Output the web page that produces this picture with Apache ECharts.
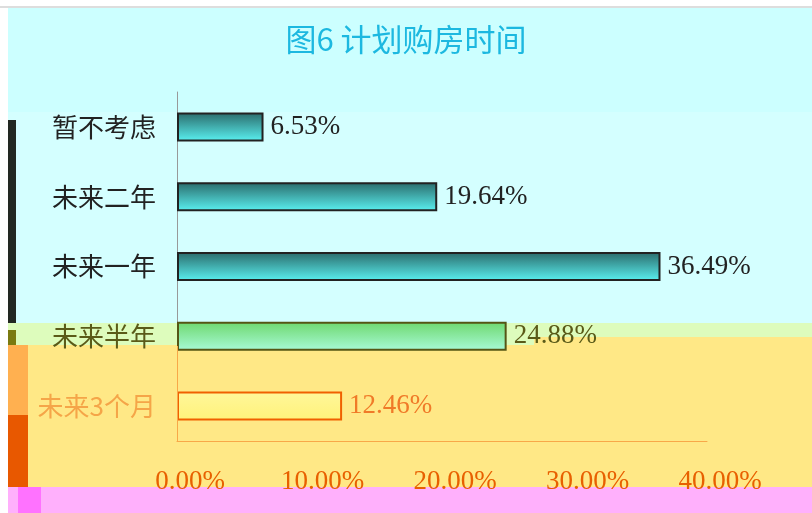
<!DOCTYPE html>
<html><head><meta charset="utf-8">
<script src="https://cdn.jsdelivr.net/npm/echarts@6/dist/echarts.min.js"></script>
<style>html,body{margin:0;padding:0;background:#fff}#c{width:812px;height:513px}</style>
</head><body><div id="c"></div>
<script>
const titleText = '图6 计划购房时间';
const categories = ['暂不考虑', '未来二年', '未来一年', '未来半年', '未来3个月'];
const values = [6.53, 19.64, 36.49, 24.88, 12.46];
const tickValues = [0, 10, 20, 30, 40];

const barStyles = [
  {top:'#2a6a6a', bottom:'#5af2f2', border:'#222', text:'#222'},
  {top:'#2a6a6a', bottom:'#5af2f2', border:'#222', text:'#222'},
  {top:'#2a6a6a', bottom:'#5af2f2', border:'#222', text:'#222'},
  {top:'#6ed86e', bottom:'#a8fad8', border:'#555515', text:'#5a5a18'},
  {top:'#fff79a', bottom:'#fff27a', border:'#f06000', text:'#f07a28'}
];
const catColors = ['#222', '#222', '#222', '#5a5a18', '#f5a548'];

const chart = echarts.init(document.getElementById('c'), null, {renderer:'canvas'});
const grad = (a,b) => new echarts.graphic.LinearGradient(0,0,0,1,[{offset:0,color:a},{offset:1,color:b}]);

chart.setOption({
  backgroundColor:'#ffffff',
  animation:false,
  graphic:[
    {type:'rect', z:-10, shape:{x:0,y:0,width:812,height:8}, style:{fill:'#ffffff'}},
    {type:'line', z:-9, shape:{x1:0,y1:7,x2:812,y2:7}, style:{stroke:'#bbbbbb',lineWidth:1}},
    {type:'rect', z:-10, shape:{x:8,y:8,width:804,height:315}, style:{fill:'#ccffff'}},
    {type:'rect', z:-10, shape:{x:8,y:112,width:804,height:211}, style:{fill:'#d4ffff'}},
    {type:'rect', z:-10, shape:{x:8,y:323,width:804,height:22}, style:{fill:'#ddfcbc'}},
    {type:'rect', z:-10, shape:{x:8,y:345,width:804,height:142}, style:{fill:'#ffe886'}},
    {type:'rect', z:-9, shape:{x:534,y:337,width:278,height:8}, style:{fill:'#ffe886'}},
    {type:'rect', z:-9, shape:{x:8,y:120,width:8,height:203}, style:{fill:'#222822'}},
    {type:'rect', z:-9, shape:{x:8,y:330,width:8,height:15}, style:{fill:'#7a7a10'}},
    {type:'rect', z:-9, shape:{x:8,y:345,width:20,height:70}, style:{fill:'#ffb050'}},
    {type:'rect', z:-9, shape:{x:8,y:415,width:20,height:72}, style:{fill:'#e85800'}},
    {type:'rect', z:-10, shape:{x:8,y:487,width:804,height:26}, style:{fill:'#ffb0fc'}},
    {type:'rect', z:-9, shape:{x:18,y:487,width:23,height:26}, style:{fill:'#ff72ff'}},
    {type:'line', z:100, shape:{x1:177.5,y1:346,x2:177.5,y2:441}, style:{stroke:'#f8a848',lineWidth:1}}
  ],
  title:{
    text:titleText, left:'center', top:19,
    textStyle:{fontFamily:'Noto Sans CJK SC', fontSize:31, fontWeight:'normal', color:'#1cb8e0'}
  },
  grid:{left:177, right:105, top:92, bottom:72, containLabel:false},
  xAxis:{
    type:'value', min:0, max:40, interval:10,
    axisLine:{show:true, lineStyle:{color:'#f8a848'}},
    axisTick:{show:false},
    splitLine:{show:false},
    axisLabel:{
      margin:27, color:'#e86000', fontFamily:'Liberation Serif', fontSize:27,
      padding:[0,0,0,26],
      formatter:v => tickValues.includes(v) ? v.toFixed(2) + '%' : ''
    }
  },
  yAxis:{
    type:'category', data:categories, inverse:true,
    axisLine:{show:true, lineStyle:{color:'#999999'}},
    axisTick:{show:false},
    axisLabel:{
      margin:21, fontFamily:'Noto Sans CJK SC', fontSize:26,
      color:(v, i) => catColors[i]
    }
  },
  series:[{
    type:'bar', barWidth:29,
    data:values.map((v,i)=>({
      value:v,
      itemStyle:{color:grad(barStyles[i].top, barStyles[i].bottom), borderColor:barStyles[i].border, borderWidth:2},
      label:{color:barStyles[i].text}
    })),
    label:{
      show:true, position:'right', distance:7,
      fontFamily:'Liberation Serif', fontSize:27,
      formatter:p => p.value.toFixed(2) + '%'
    }
  }]
});
</script></body></html>
